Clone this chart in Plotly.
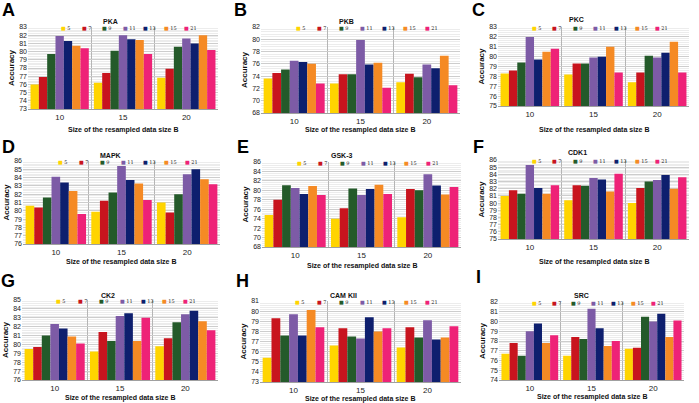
import plotly.graph_objects as go

W, H = 699, 403

categories = ["10", "15", "20"]
series_names = ["5", "7", "9", "11", "13", "15", "21"]
colors = ["#FFD400", "#C8141E", "#245A2A", "#7D5BA6", "#0E1F6E", "#F58A24", "#EE2277"]

# values: one list per series (5,7,9,11,13,15,21), each over categories 10,15,20
PKA = [[76.0, 76.2, 76.8], [76.9, 77.4, 77.9], [79.7, 80.1, 80.6], [81.9, 82.0, 81.6],
       [81.3, 81.5, 81.0], [80.7, 81.4, 82.0], [80.4, 79.7, 80.2]]
PKB = [[73.6, 72.8, 73.0], [74.5, 74.3, 74.4], [75.1, 74.3, 73.8], [76.5, 79.9, 75.9],
       [76.3, 75.9, 75.3], [76.0, 76.2, 77.3], [72.8, 72.1, 72.5]]
PKC = [[78.3, 78.2, 77.4], [78.6, 79.3, 78.4], [79.4, 79.3, 80.1], [82.0, 79.9, 79.9],
       [79.7, 80.0, 80.4], [80.5, 81.0, 81.5], [80.8, 78.4, 78.4]]
MAPK = [[80.6, 79.9, 81.0], [80.4, 81.2, 79.8], [81.6, 82.2, 82.0], [84.1, 85.4, 84.4],
        [83.4, 83.7, 85.0], [82.4, 83.3, 83.8], [79.6, 81.3, 83.2]]
GSK3 = [[74.8, 74.0, 74.3], [78.0, 76.2, 80.3], [81.1, 80.4, 80.0], [80.5, 79.0, 83.4],
        [79.2, 80.3, 81.0], [80.9, 81.2, 79.1], [79.0, 79.2, 80.7]]
CDK1 = [[81.0, 80.4, 80.0], [81.8, 82.5, 82.1], [81.3, 82.4, 83.0], [85.3, 83.5, 83.2],
        [82.1, 83.3, 83.9], [81.3, 81.6, 82.0], [82.5, 84.1, 83.6]]
CK2 = [[79.5, 79.2, 79.8], [79.7, 81.4, 80.7], [81.0, 80.4, 82.5], [82.3, 83.2, 83.4],
       [81.8, 83.5, 83.8], [80.9, 80.4, 82.6], [80.1, 83.0, 81.6]]
CAMKII = [[75.4, 76.6, 76.4], [79.3, 78.3, 78.4], [77.6, 77.5, 77.4], [79.7, 77.3, 79.1],
          [77.6, 79.4, 77.2], [80.1, 78.0, 77.4], [78.4, 78.3, 78.5]]
SRC = [[76.7, 76.5, 77.2], [77.8, 78.4, 77.3], [76.5, 78.2, 80.5], [79.0, 81.3, 80.0],
       [79.8, 79.3, 80.8], [77.8, 77.5, 78.4], [78.6, 78.0, 80.1]]

# panel: letter, title, data, y range, dtick, plot box px (x0,x1,y0,y1), title px (x,y), letter center px (x,y), xtitle y px
panels = [
    ("A", "PKA", PKA, (73, 83), 1, (28, 218, 27, 109), (110, 21), (8, 10), 130),
    ("B", "PKB", PKB, (68, 82), 2, (261, 460, 27, 113), (346, 21), (240, 10), 130),
    ("C", "PKC", PKC, (75, 83), 1, (498, 689, 27, 106), (576, 19), (478, 10), 130),
    ("D", "MAPK", MAPK, (76, 86), 1, (23, 220, 161, 244), (110, 155), (8, 147), 262),
    ("E", "GSK-3", GSK3, (68, 86), 2, (262, 461, 162, 247), (342, 155), (243, 147), 266),
    ("F", "CDK1", CDK1, (75, 86), 1, (498, 689, 160, 239), (577, 152), (478, 147), 262),
    ("G", "CK2", CK2, (76, 85), 1, (22, 218, 300, 380), (108, 295), (8, 281), 398),
    ("H", "CAM KII", CAMKII, (73, 81), 1, (260, 461, 301, 382), (343, 295), (242, 281), 399),
    ("I", "SRC", SRC, (74, 82), 1, (499, 684, 302, 380), (581, 295), (478, 277), 397),
]

FONT = "Liberation Sans, Arial, sans-serif"
fig = go.Figure()
annotations = []
layout_axes = {}

def px_x(p):
    return p / W

def px_y(p):
    return 1 - p / H

for k, (letter, title, data, yr, dt, box, tpos, lpos, xty) in enumerate(panels, start=1):
    xa = "x" if k == 1 else f"x{k}"
    ya = "y" if k == 1 else f"y{k}"
    for j, name in enumerate(series_names):
        fig.add_trace(go.Bar(
            x=categories, y=data[j], name=name, xaxis=xa, yaxis=ya,
            marker=dict(color=colors[j], line=dict(width=0)),
            showlegend=False,
        ))
    x0, x1, y0, y1 = box
    xkey = "xaxis" if k == 1 else f"xaxis{k}"
    ykey = "yaxis" if k == 1 else f"yaxis{k}"
    layout_axes[xkey] = dict(
        domain=[px_x(x0), px_x(x1)], anchor=ya, type="category", automargin=False,
        tickson="boundaries", showgrid=True, gridcolor="#b5b5b5", gridwidth=1,
        ticks="", showline=True, linecolor="#a0a0a0",
        tickfont=dict(size=8, family=FONT, color="#222"),
    )
    layout_axes[ykey] = dict(
        domain=[px_y(y1), px_y(y0)], anchor=xa, range=list(yr), dtick=dt, automargin=False,
        showgrid=True, gridcolor="#cdcdcd", zeroline=False,
        minor=dict(dtick=dt / 5, showgrid=True, gridcolor="#ececec"),
        ticks="", showline=False,
        tickfont=dict(size=7, family=FONT, color="#222"),
        title=dict(text="<b>Accuracy</b>", font=dict(size=8, family=FONT, color="#111"), standoff=3),
    )
    # panel title
    annotations.append(dict(x=px_x(tpos[0]), y=px_y(tpos[1]), xref="paper", yref="paper",
                            text=f"<b>{title}</b>", showarrow=False, xanchor="center", yanchor="middle",
                            font=dict(size=7, family=FONT, color="#111")))
    # panel letter
    annotations.append(dict(x=px_x(lpos[0]), y=px_y(lpos[1]), xref="paper", yref="paper",
                            text=f"<b>{letter}</b>", showarrow=False, xanchor="center", yanchor="middle",
                            font=dict(size=18, family=FONT, color="#000")))
    # x axis title
    annotations.append(dict(x=px_x((x0 + x1) / 2), y=px_y(xty), xref="paper", yref="paper",
                            text="<b>Size of the resampled data size B</b>", showarrow=False,
                            xanchor="center", yanchor="middle",
                            font=dict(size=7, family=FONT, color="#111")))
    # legend entries inside top of plot
    for j, name in enumerate(series_names):
        annotations.append(dict(x=0.165 + j * 0.108, y=0.985, xref=f"{xa} domain", yref=f"{ya} domain",
                                text=f"<span style='color:{colors[j]}'>■</span> {name}",
                                showarrow=False, xanchor="left", yanchor="middle",
                                font=dict(size=5, family="DejaVu Serif, serif", color="#222")))

fig.update_layout(
    width=W, height=H, margin=dict(l=0, r=0, t=0, b=0, autoexpand=False),
    paper_bgcolor="white", plot_bgcolor="white",
    barmode="group", bargap=0.08, bargroupgap=0,
    annotations=annotations, showlegend=False,
    **layout_axes,
)

fig.write_html(
    "out.html",
    config={"displayModeBar": False},
    post_script="document.documentElement.style.margin='0';document.body.style.margin='0';"
                "document.body.style.overflow='hidden';",
)
